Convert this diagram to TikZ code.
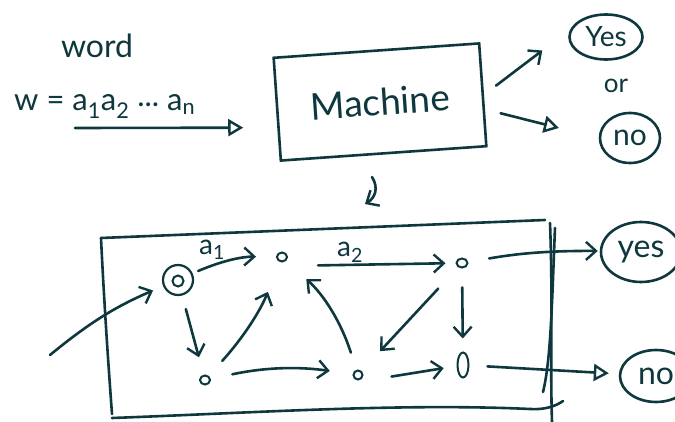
\documentclass[tikz,border=0pt]{standalone}
\usepackage{fontspec}
\setmainfont{Lato}
\usetikzlibrary{arrows.meta,shapes.geometric}
\definecolor{ink}{RGB}{14,56,62}
\tikzset{
  inkline/.style={draw=ink, line width=2.6pt, line cap=round, line join=round},
  vtip/.style={inkline, -{Straight Barb[length=10pt,width=18pt,line width=2.4pt]}},
  ttip/.style={inkline, -{Triangle[open,length=15pt,width=17pt,line width=2.4pt]}},
  lbl/.style={text=ink, inner sep=0pt},
  stt/.style={ellipse, draw=ink, line width=2pt, inner sep=0pt, minimum width=10pt, minimum height=9pt},
  ans/.style={ellipse, draw=ink, line width=2.6pt, text=ink, inner sep=0pt},
}
\begin{document}
\begin{tikzpicture}[x=1pt,y=-1pt]
\clip (0,0) rectangle (675,422);
\fill[white] (0,0) rectangle (675,422);

% top part
\node[lbl, font=\fontsize{32}{34}\selectfont] (word) at (97,46) {word};
\node[lbl, font=\fontsize{31}{33}\selectfont, anchor=base west] (wrd) at (14,111) {w = a\textsubscript{1}a\textsubscript{2} \raisebox{0.3ex}{...} a\textsubscript{n}};
\node[draw=ink, line width=2.6pt, rotate=4, minimum width=206pt, minimum height=103pt, text=ink, font=\fontsize{37}{39}\selectfont] (machine) at (380,102) {Machine};
\node[ans, minimum width=73pt, minimum height=45pt, font=\fontsize{28}{30}\selectfont] (yes1) at (606,37) {Yes};
\node[lbl, font=\fontsize{26}{28}\selectfont] (or) at (616,86) {or};
\node[ans, minimum width=60pt, minimum height=50pt, font=\fontsize{30}{32}\selectfont] (no1) at (630,138) {no};

\coordinate (wIn) at (75,128);
\draw[ttip, shorten >=34pt] (wIn) -- (machine.190);
\draw[vtip, shorten <=15pt, shorten >=35pt] (machine.east) -- (yes1.168);
\draw[ttip, shorten <=16pt, shorten >=41pt] (machine.-8) -- (no1.west);

\coordinate (hookA) at (372,177);
\coordinate (hookB) at (365,204);
\draw[vtip] (hookA) .. controls (379,188) and (375,198) .. (hookB);

% big box
\draw[inkline] (101,238) -- (545,220);
\draw[inkline] (101,238) .. controls (104,300) and (108,360) .. (112,414);
\draw[inkline] (112,418) .. controls (250,413) and (400,403) .. (530,409) .. controls (545,410) and (556,406) .. (563,401);
\draw[inkline] (550,223) .. controls (553,300) and (550,360) .. (552,422);
\draw[inkline] (555,228) .. controls (552,300) and (551,360) .. (543,392);

% states
\node[circle, draw=ink, line width=2.2pt, minimum size=30pt, inner sep=0pt] (s0) at (178,280) {};
\node[circle, draw=ink, line width=2pt, minimum size=11pt, inner sep=0pt] (s0in) at (178,281) {};
\node[stt] (q1) at (282,257) {};
\node[stt] (q2) at (205,380) {};
\node[stt, minimum width=9pt] (q3) at (358,375) {};
\node[stt, minimum width=11pt] (q4) at (462,263) {};
\node[stt, minimum width=11pt, minimum height=25pt] (q5) at (463,365) {};
\node[ans, minimum width=80pt, minimum height=60pt, font=\fontsize{32}{34}\selectfont] (yes2) at (641,252) {yes};
\node[ans, minimum width=72pt, minimum height=52pt, font=\fontsize{32}{34}\selectfont] (no2) at (656,376) {no};

% transitions
\coordinate (init) at (50,355);
\draw[vtip, shorten >=11pt] (init) to[bend left=8] (s0);
\draw[vtip, shorten <=6pt, shorten >=20pt] (s0) to[bend left=12] (q1);
\node[lbl, font=\fontsize{28}{30}\selectfont] (la1) at (212,250) {a\textsubscript{1}};
\draw[vtip, shorten <=36pt, shorten >=10pt] ([yshift=-9pt]q1.center) -- (q4);
\node[lbl, font=\fontsize{28}{30}\selectfont] (la2) at (350,252) {a\textsubscript{2}};
\draw[vtip, shorten <=14pt, shorten >=18pt] (s0) -- (q2);
\draw[vtip, shorten <=20pt, shorten >=32pt] (q2) to[bend right=10] (q1);
\draw[vtip, shorten <=22pt, shorten >=23pt] (q2) to[bend left=10] (q3);
\draw[vtip, shorten <=18pt, shorten >=27pt] (q3) to[bend right=15] (q1);
\draw[vtip, shorten <=29pt, shorten >=27pt] (q4) -- (q3);
\draw[vtip, shorten <=19pt, shorten >=13pt] (q4) -- (q5);
\draw[vtip, shorten <=34pt, shorten >=13pt] ([yshift=-7pt]q3.center) -- (q5);
\draw[vtip, shorten <=21pt, shorten >=2pt] (q4) to[bend left=5] (yes2);
\draw[ttip, shorten <=18pt, shorten >=10pt] (q5) -- (no2);
\end{tikzpicture}
\end{document}
